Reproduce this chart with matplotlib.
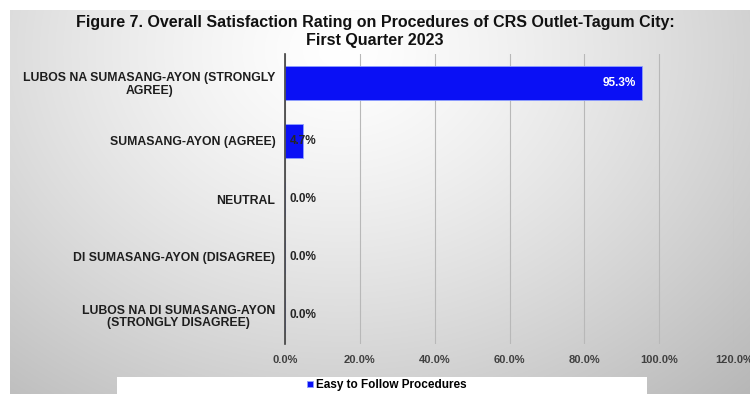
import numpy as np
import matplotlib
matplotlib.use("Agg")
import matplotlib.pyplot as plt
from matplotlib.patches import Rectangle

plt.rcParams['font.family'] = ['Liberation Sans', 'DejaVu Sans']

categories = [
    "LUBOS NA SUMASANG-AYON (STRONGLY\nAGREE)",
    "SUMASANG-AYON (AGREE)",
    "NEUTRAL",
    "DI SUMASANG-AYON (DISAGREE)",
    "LUBOS NA DI SUMASANG-AYON\n(STRONGLY DISAGREE)",
]
values = [95.3, 4.7, 0.0, 0.0, 0.0]
series_name = "Easy to Follow Procedures"
x_ticks = [0, 20, 40, 60, 80, 100, 120]
title_lines = ["Figure 7. Overall Satisfaction Rating on Procedures of CRS Outlet-Tagum City:",
               "First Quarter 2023"]

bar_color = "#0a10f5"

fig = plt.figure(figsize=(7.5, 3.94), dpi=100)
fig.patch.set_facecolor("white")

# grey radial backdrop behind the chart, inset from the top-left edge
bg = fig.add_axes([10 / 750, 0, 740 / 750, 384 / 394], zorder=-10)
h, w = 384, 740
yy, xx = np.mgrid[0:h, 0:w]
r = np.sqrt(((xx - 330) / 520.0) ** 2 + ((yy - 40) / 420.0) ** 2)
shade = 1.0 - 0.24 * np.clip(r, 0, 1.2) ** 1.3
bg.imshow(np.dstack([shade] * 3), aspect="auto", extent=[0, 1, 0, 1])
bg.set_axis_off()

ax = fig.add_axes([285 / 750, 1 - 344 / 394, 449 / 750, 290 / 394])
ax.patch.set_alpha(0)

y = np.arange(len(categories))
bars = ax.barh(y, values, height=0.6, color=bar_color, edgecolor="#8fa0ff",
               linewidth=0.6, label=series_name, zorder=3)
ax.set_ylim(len(categories) - 0.5, -0.5)
ax.set_xlim(0, 120)

ax.set_yticks(y)
ax.set_yticklabels(categories, fontsize=8.8, fontweight="bold", color="#1e1e1e",
                   multialignment="center", linespacing=1.1)
ax.tick_params(axis="y", length=0, pad=7)
ax.set_xticks(x_ticks)
ax.set_xticklabels([f"{t:.1f}%" for t in x_ticks], fontsize=8, fontweight="bold",
                   color="#404040")
ax.tick_params(axis="x", length=0, pad=8)

ax.grid(axis="x", color="#b8b8b8", linewidth=0.8, zorder=0)
for side in ["top", "right", "bottom"]:
    ax.spines[side].set_visible(False)
ax.spines["left"].set_color("#404040")
ax.spines["left"].set_linewidth(1.2)
ax.spines["left"].set_zorder(4)

# value labels: the large bar gets its label inside, the rest at the axis
for yi, v in zip(y, values):
    if v > 50:
        ax.annotate(f"{v:.1f}%", (v, yi), xytext=(-4, 0), textcoords="offset points",
                    ha="right", va="center", fontsize=8.5, fontweight="bold",
                    color="white", zorder=5)
    else:
        ax.annotate(f"{v:.1f}%", (0, yi), xytext=(3.5, 0), textcoords="offset points",
                    ha="left", va="center", fontsize=8.5, fontweight="bold",
                    color="#262626", zorder=5)

fig.text(0.5, 1 - 23 / 394, title_lines[0], ha="center", va="center", fontsize=11.5,
         fontweight="bold", color="#111111")
fig.text(0.5, 1 - 41 / 394, title_lines[1], ha="center", va="center", fontsize=11.5,
         fontweight="bold", color="#111111")

# white legend strip along the bottom
fig.patches.append(Rectangle((117 / 750, 0), 530 / 750, 17 / 394,
                             transform=fig.transFigure, facecolor="white",
                             edgecolor="none", zorder=1))
fig.legend(handles=[bars], labels=[series_name], loc="center",
           bbox_to_anchor=(387 / 750, 1 - 385 / 394), frameon=False,
           handlelength=0.45, handleheight=0.45, handletextpad=0.3,
           prop={"size": 8.5, "weight": "bold"})

fig.savefig("out.png", dpi=100)
